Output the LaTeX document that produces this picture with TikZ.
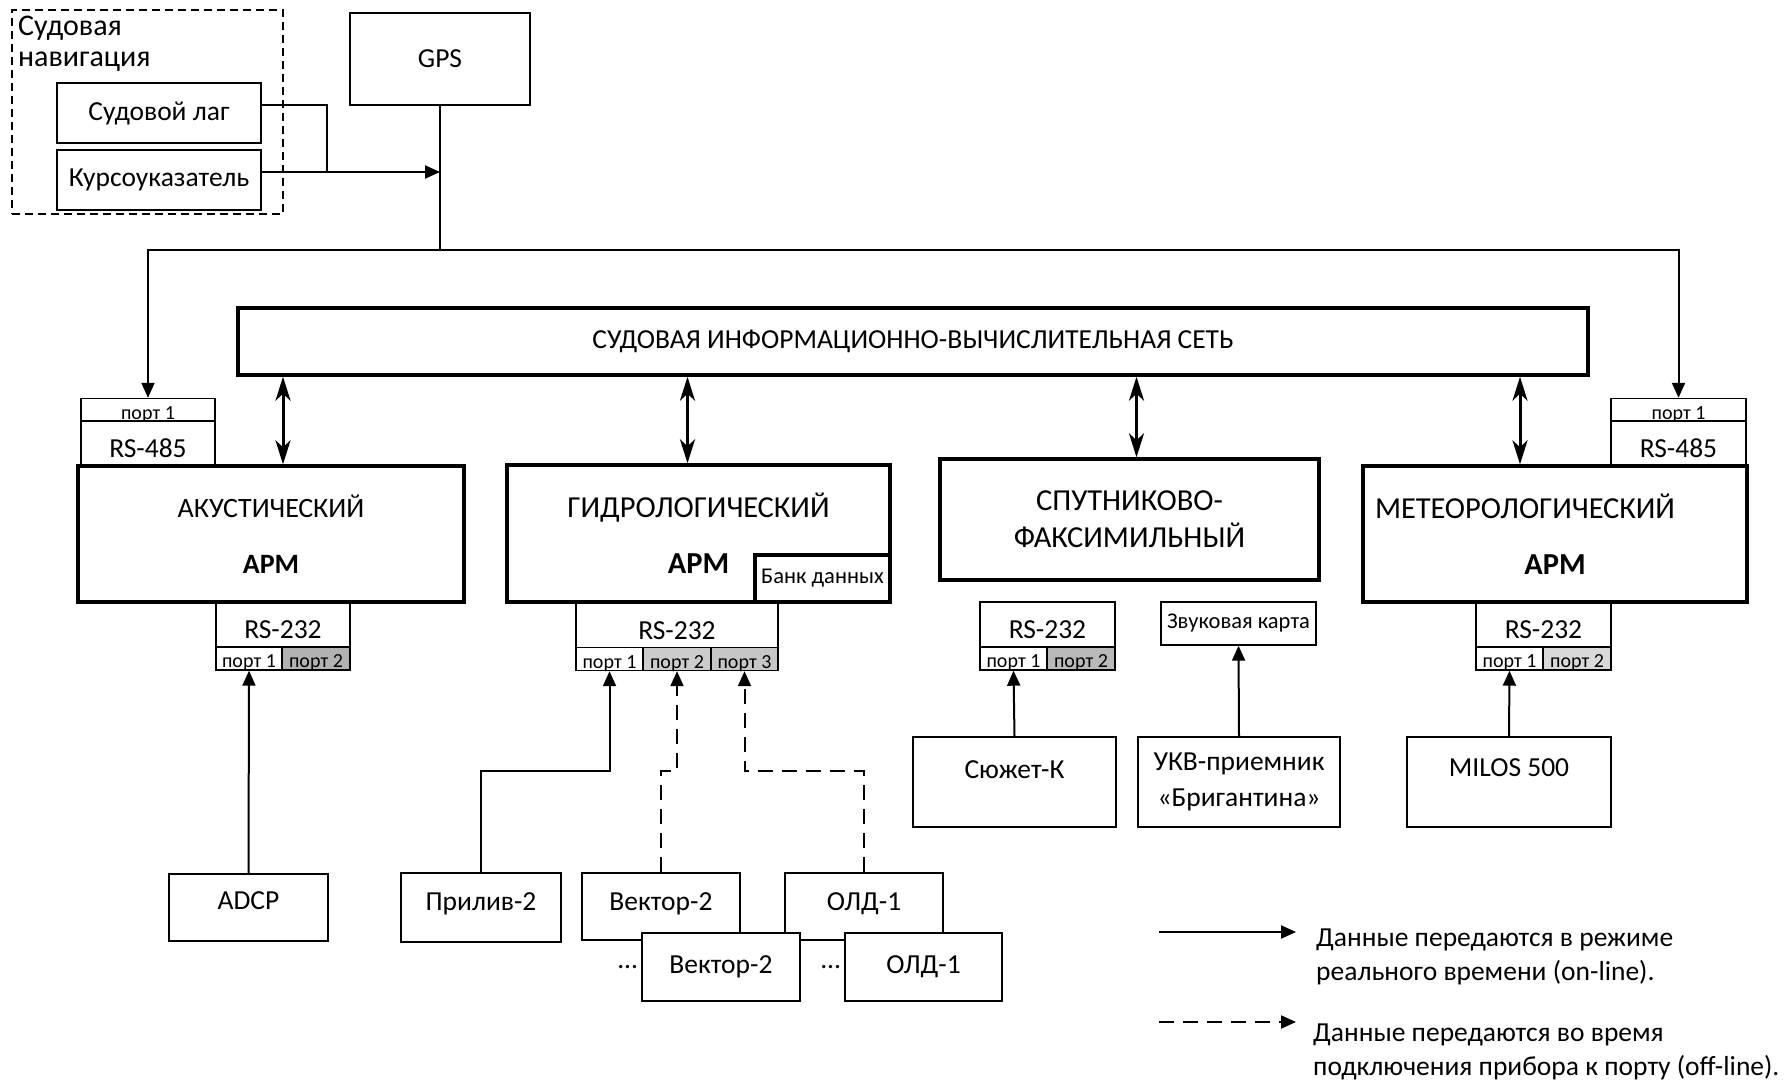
\documentclass[tikz,border=0pt]{standalone}
\usepackage{fontspec}
\setmainfont{Carlito}
\usetikzlibrary{arrows.meta}

\newcommand\lblfont{\fontsize{27.5}{32}\selectfont}
\newcommand\armfont{\fontsize{30.5}{34}\selectfont}
\newcommand\navfont{\fontsize{30}{31}\selectfont}
\newcommand\portfont{\fontsize{20}{22}\selectfont}
\newcommand\smallfont{\fontsize{22.5}{27}\selectfont}

\begin{document}
\begin{tikzpicture}[
  x=1pt, y=-1pt,
  >={Triangle[length=15pt, width=13pt]},
  box/.style={draw, line width=1.4pt, fill=white, inner sep=0pt, align=center,
    font=\lblfont},
  arm/.style={box, line width=3.4pt, font=\armfont},
  iface/.style={box, text height=28pt, text depth=0pt},
  port/.style={box, minimum height=23pt, font=\portfont, text height=18pt,
    text depth=0pt},
  arr/.style={->, line width=2pt},
  offline/.style={arr, dash pattern=on 15pt off 9pt},
  dbl/.style={{Stealth[length=24pt, width=15pt, inset=7pt]}-{Stealth[length=24pt, width=15pt, inset=7pt]},
    line width=3pt},
  wire/.style={line width=2pt},
]

% Background
\fill[white] (0,0) rectangle (1791,1080);

% =============================================
% Ship navigation and GPS
% =============================================
\node[draw, line width=1.3pt, dash pattern=on 8pt off 5pt, inner sep=0pt,
  minimum width=271pt, minimum height=204pt] (nav) at (147.5,112) {};
\node[font=\navfont, align=left, anchor=north west, inner sep=0pt] (navtitle)
  at (18,16) {Судовая\\навигация};

\node[box, minimum width=204pt, minimum height=60pt] (lag) at (159,113) {Судовой лаг};
\node[box, minimum width=204pt, minimum height=60pt] (kurs) at (159,180) {Курсоуказатель};
\node[box, minimum width=180pt, minimum height=92pt] (gps) at (440,59) {GPS};

\coordinate (navjoin) at (327,172);
\coordinate (gpsin) at (440,172);
\coordinate (bus) at (440,250);

\draw[wire] ([yshift=8pt]lag.east) -| (navjoin);
\draw[arr] ([yshift=8pt]kurs.east) -- (gpsin);
\draw[wire] (gps.south) -- (bus);

% =============================================
% Network
% =============================================
\node[arm, font=\lblfont, minimum width=1350pt, minimum height=67pt] (net) at (913,341.5)
  {СУДОВАЯ ИНФОРМАЦИОННО-ВЫЧИСЛИТЕЛЬНАЯ СЕТЬ};

% =============================================
% Acoustic workstation
% =============================================
\node[port, minimum width=134pt] (ac485p) at (148,410) {порт 1};
\node[iface, minimum width=134pt, minimum height=45pt] (ac485) at (148,443.5) {RS-485};
\node[iface, minimum width=134pt, minimum height=45pt] (ac232) at (283,624.5) {RS-232};
\node[port, minimum width=66pt] (acp1) at (249,658.5) {порт 1};
\node[port, minimum width=68pt, fill=gray!60] (acp2) at (316,658.5) {порт 2};
\node[arm, font=\fontsize{28}{32}\selectfont, minimum width=386pt, minimum height=136pt]
  (ac) at (271,534) {АКУСТИЧЕСКИЙ\\[24pt]\textbf{АРМ}};

\node[box, minimum width=159pt, minimum height=67pt, text depth=14pt] (adcp)
  at (248.5,907.5) {ADCP};
\draw[arr] (adcp.north) -- (acp1.south);

% =============================================
% Hydrological workstation
% =============================================
\node[iface, minimum width=202pt, minimum height=46pt] (hy232) at (677,625) {RS-232};
\node[port, minimum width=67pt] (hyp1) at (609.5,659) {порт 1};
\node[port, minimum width=68pt, fill=gray!40] (hyp2) at (677,659) {порт 2};
\node[port, minimum width=67pt, fill=gray!45] (hyp3) at (744.5,659) {порт 3};
\node[arm, minimum width=383pt, minimum height=137pt] (hy) at (698.5,533.5)
  {ГИДРОЛОГИЧЕСКИЙ\\[22pt]\textbf{АРМ}};
\node[arm, minimum width=135pt, minimum height=47pt, font=\smallfont] (bank)
  at (822.5,578.5) {Банк данных};

\node[box, minimum width=160pt, minimum height=69pt, text depth=12pt] (priliv)
  at (481,907.5) {Прилив-2};
\node[box, minimum width=158pt, minimum height=67pt, text depth=10pt] (vec)
  at (661,906.5) {Вектор-2};
\node[box, minimum width=158pt, minimum height=67pt, text depth=10pt] (old)
  at (864,906.5) {ОЛД-1};
\node[box, minimum width=158pt, minimum height=68pt] (vecb) at (721,967) {Вектор-2};
\node[box, minimum width=157pt, minimum height=68pt] (oldb) at (923.5,967) {ОЛД-1};
\node[font=\lblfont, anchor=east, inner sep=3pt] (vecdots) at (vecb.west) {...};
\node[font=\lblfont, anchor=east, inner sep=3pt] (olddots) at (oldb.west) {...};

\draw[arr] (priliv.north) -- ++(0,-101) -| (hyp1.south);
\draw[offline] (vec.north) -- ++(0,-101) -| (hyp2.south);
\draw[offline] (old.north) -- ++(0,-101) -| (hyp3.south);

% =============================================
% Satellite facsimile workstation
% =============================================
\node[arm, minimum width=379pt, minimum height=121pt] (sat) at (1129.5,519.5)
  {СПУТНИКОВО-\\[3pt]ФАКСИМИЛЬНЫЙ};
\node[iface, minimum width=135pt, minimum height=45pt] (sat232) at (1047.5,624.5) {RS-232};
\node[port, minimum width=67pt] (satp1) at (1013.5,658.5) {порт 1};
\node[port, minimum width=68pt, fill=gray!55] (satp2) at (1081,658.5) {порт 2};
\node[box, minimum width=155pt, minimum height=43pt, font=\smallfont] (sound)
  at (1238.5,623.5) {Звуковая карта};

\node[box, minimum width=203pt, minimum height=90pt, text depth=24pt] (sjuzhet)
  at (1014.5,782) {Сюжет-К};
\node[box, minimum width=202pt, minimum height=90pt] (ukv) at (1239,782)
  {УКВ-приемник\\[4pt]«Бригантина»};

\draw[arr] (sjuzhet.north) -- (satp1.south);
\draw[arr] (ukv.north) -- (sound.south);

% =============================================
% Meteorological workstation
% =============================================
\node[port, minimum width=135pt] (me485p) at (1678.5,410) {порт 1};
\node[iface, minimum width=135pt, minimum height=45pt] (me485) at (1678.5,443.5) {RS-485};
\node[iface, minimum width=135pt, minimum height=45pt] (me232) at (1543.5,624.5) {RS-232};
\node[port, minimum width=67pt] (mep1) at (1509.5,658.5) {порт 1};
\node[port, minimum width=68pt, fill=gray!30] (mep2) at (1577,658.5) {порт 2};
\node[arm, minimum width=384pt, minimum height=136pt] (me) at (1555,534)
  {МЕТЕОРОЛОГИЧЕСКИЙ\hspace*{60pt}\\[22pt]\textbf{АРМ}};

\node[box, minimum width=204pt, minimum height=90pt, text depth=28pt] (milos)
  at (1509,782) {MILOS 500};
\draw[arr] (milos.north) -- (mep1.south);

% GPS bus down to the RS-485 ports
\draw[arr] (bus) -| (ac485p.north);
\draw[arr] (bus) -| (me485p.north);

% Network links
\coordinate (acin) at ([xshift=12pt]ac.north);
\coordinate (hyin) at ([xshift=-11pt]hy.north);
\coordinate (satin) at ([xshift=7pt]sat.north);
\coordinate (mein) at ([xshift=-35pt]me.north);
\draw[dbl] (acin |- net.south) -- (acin);
\draw[dbl] (hyin |- net.south) -- (hyin);
\draw[dbl] (satin |- net.south) -- (satin);
\draw[dbl] (mein |- net.south) -- (mein);

% =============================================
% Legend
% =============================================
\coordinate (onA) at (1159,932);
\coordinate (onB) at (1296,932);
\draw[arr] (onA) -- (onB);
\node[font=\lblfont, align=left, anchor=north west, inner sep=0pt] (ontext)
  at (1316,929) {Данные передаются в режиме\\[2pt]реального времени (on-line).};

\coordinate (offA) at (1159,1022);
\coordinate (offB) at (1296,1022);
\draw[offline] (offA) -- (offB);
\node[font=\lblfont, align=left, anchor=north west, inner sep=0pt] (offtext)
  at (1313,1024) {Данные передаются во время\\[2pt]подключения прибора к порту (off-line).};

\end{tikzpicture}
\end{document}
